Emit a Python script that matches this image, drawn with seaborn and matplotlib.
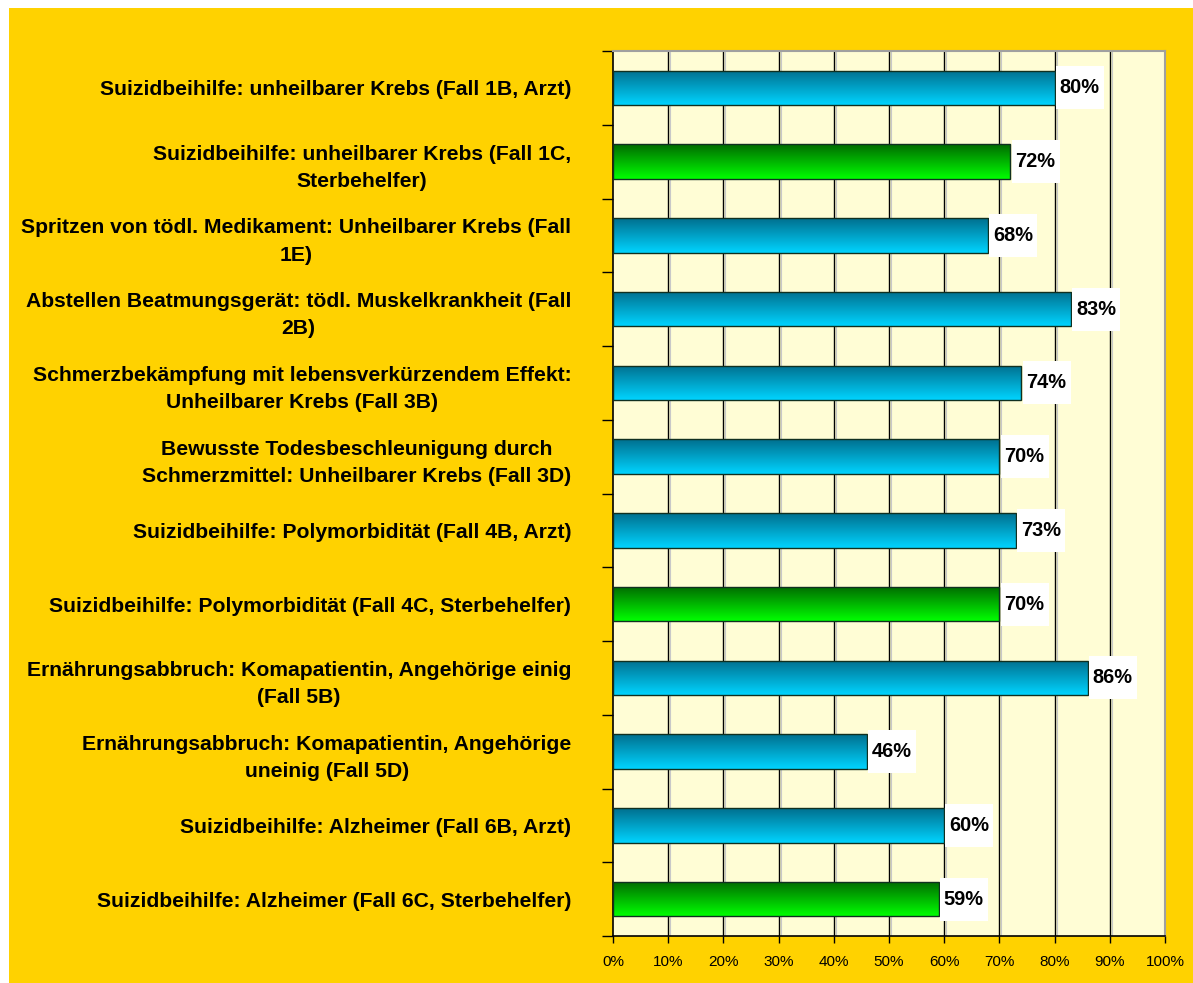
import numpy as np
import pandas as pd
import matplotlib
matplotlib.use("Agg")
import matplotlib.pyplot as plt
import matplotlib.patches as mpatches
import seaborn as sns
from matplotlib.colors import LinearSegmentedColormap

categories = [
    "Suizidbeihilfe: unheilbarer Krebs (Fall 1B, Arzt)",
    "Suizidbeihilfe: unheilbarer Krebs (Fall 1C,\nSterbehelfer)",
    "Spritzen von tödl. Medikament: Unheilbarer Krebs (Fall\n1E)",
    "Abstellen Beatmungsgerät: tödl. Muskelkrankheit (Fall\n2B)",
    "Schmerzbekämpfung mit lebensverkürzendem Effekt:\nUnheilbarer Krebs (Fall 3B)",
    "Bewusste Todesbeschleunigung durch\nSchmerzmittel: Unheilbarer Krebs (Fall 3D)",
    "Suizidbeihilfe: Polymorbidität (Fall 4B, Arzt)",
    "Suizidbeihilfe: Polymorbidität (Fall 4C, Sterbehelfer)",
    "Ernährungsabbruch: Komapatientin, Angehörige einig\n(Fall 5B)",
    "Ernährungsabbruch: Komapatientin, Angehörige\nuneinig (Fall 5D)",
    "Suizidbeihilfe: Alzheimer (Fall 6B, Arzt)",
    "Suizidbeihilfe: Alzheimer (Fall 6C, Sterbehelfer)",
]
values = [80, 72, 68, 83, 74, 70, 73, 70, 86, 46, 60, 59]
groups = ["Arzt", "Sterbehelfer", "Arzt", "Arzt", "Arzt", "Arzt", "Arzt",
          "Sterbehelfer", "Arzt", "Arzt", "Arzt", "Sterbehelfer"]
x_ticks = [0, 10, 20, 30, 40, 50, 60, 70, 80, 90, 100]
x_tick_labels = [f"{t}%" for t in x_ticks]

df = pd.DataFrame({"cat": categories, "val": values, "grp": groups})

GOLD = "#FFD200"
PLOT_BG = "#FFFDD5"
gradients = {
    "Arzt": ("#006F8E", "#00D4FF"),
    "Sterbehelfer": ("#006A00", "#00FF00"),
}
BAR_W = 0.47

sns.set_theme(style="white")
plt.rcParams["font.family"] = ["Liberation Sans", "DejaVu Sans"]
plt.rcParams["text.color"] = "black"
plt.rcParams["xtick.color"] = "black"
plt.rcParams["ytick.color"] = "black"

fig = plt.figure(figsize=(11.93, 9.83), dpi=100)
fig.patch.set_facecolor("white")
fig.patches.append(mpatches.Rectangle(
    (9 / 1193, 0), 1 - 9 / 1193, 1 - 8 / 983, transform=fig.transFigure,
    facecolor=GOLD, edgecolor="none", zorder=-10))

ax = fig.add_axes([613 / 1193, 1 - 936 / 983, (1165 - 613) / 1193, (936 - 51) / 983])
ax.set_facecolor(PLOT_BG)

sns.barplot(data=df, x="val", y="cat", hue="grp", dodge=False, legend=False,
            palette={"Arzt": "#00AACC", "Sterbehelfer": "#00B000"},
            width=BAR_W, edgecolor="#103020", linewidth=1.0, ax=ax, zorder=3)

grad = np.linspace(0, 1, 256).reshape(-1, 1)
for patch in ax.patches:
    w = patch.get_width()
    if w == 0 or np.isnan(w):
        continue
    y0 = patch.get_y()
    h = patch.get_height()
    idx = int(round(y0 + h / 2))
    top, bot = gradients[groups[idx]]
    cmap = LinearSegmentedColormap.from_list("g", [top, bot])
    im = ax.imshow(grad, aspect="auto", cmap=cmap,
                   extent=[0, w, y0 + h, y0], zorder=3.5, origin="upper")
    im.set_clip_path(patch)
    patch.set_facecolor("none")
    patch.set_zorder(4)

ax.set_xlim(0, 100)
ax.set_ylim(11.5, -0.5)

# value labels in white boxes
box_w = 48 / 552 * 100
for i, v in enumerate(values):
    ax.add_patch(mpatches.Rectangle((v + 0.2, i - 0.29), box_w, 0.58,
                                    facecolor="white", edgecolor="none", zorder=5))
    ax.text(v + 0.9, i, f"{v}%", va="center", ha="left", fontsize=14.4,
            fontweight="bold", color="black", zorder=6)

for t in x_ticks[1:]:
    ax.axvline(t, color="black", linewidth=1.0, zorder=1)
    ax.axvline(t + 0.35, color="#C8C8C8", linewidth=0.8, zorder=0.9)

ax.set_xticks(x_ticks)
ax.set_xticklabels(x_tick_labels, fontsize=11)
ax.tick_params(axis="x", direction="out", length=5, width=1, color="black",
               pad=9, bottom=True, labelcolor="black")

ax.set_yticks(np.arange(-0.5, 12, 1))
ax.set_yticklabels([])
ax.set_yticks(np.arange(12), minor=True)
ax.set_yticklabels(categories, minor=True, fontsize=15.2, fontweight="bold",
                   multialignment="center", linespacing=1.55, color="black")
ax.tick_params(axis="y", which="major", direction="out", length=8, width=1,
               color="black", left=True)
ax.tick_params(axis="y", which="minor", length=0, pad=30, labelcolor="black")

ax.set_xlabel("")
ax.set_ylabel("")

for side in ["left", "bottom"]:
    ax.spines[side].set_color("black")
    ax.spines[side].set_linewidth(1.2)
for side in ["top", "right"]:
    ax.spines[side].set_color("#A0A0A0")
    ax.spines[side].set_linewidth(1.5)
for s in ax.spines.values():
    s.set_visible(True)

fig.savefig("out.png", dpi=100, facecolor=fig.get_facecolor())
